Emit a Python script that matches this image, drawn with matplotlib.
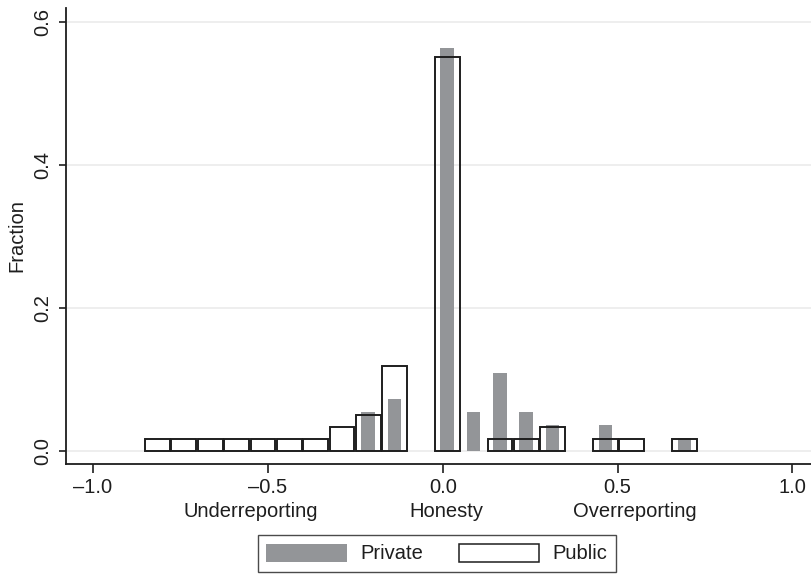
import matplotlib
matplotlib.use('Agg')
import matplotlib.pyplot as plt
from matplotlib.patches import Patch
from matplotlib.transforms import blended_transform_factory

plt.rcParams['font.family'] = ['Liberation Sans', 'DejaVu Sans']

# bin centres (deviation of report from truth) and fractions per treatment
public_x = [-0.815, -0.740, -0.665, -0.589, -0.514, -0.439, -0.363, -0.288,
            -0.213, -0.138, 0.013, 0.164, 0.239, 0.314, 0.465, 0.540, 0.691]
public_frac = [0.0167, 0.0167, 0.0167, 0.0167, 0.0167, 0.0167, 0.0167, 0.0333,
               0.0500, 0.1190, 0.5500, 0.0167, 0.0167, 0.0333, 0.0167, 0.0167, 0.0167]

private_x = [-0.213, -0.138, 0.013, 0.088, 0.164, 0.239, 0.314, 0.465, 0.691]
private_frac = [0.0545, 0.0727, 0.5636, 0.0545, 0.1091, 0.0545, 0.0364, 0.0364, 0.0182]

xticks = [-1.0, -0.5, 0.0, 0.5, 1.0]
yticks = [0.0, 0.2, 0.4, 0.6]
region_labels = ['Underreporting', 'Honesty', 'Overreporting']
region_x = [-0.55, 0.01, 0.55]

gray = '#939598'
ink = '#1e1e1e'
fs = 14.5

fig = plt.figure(figsize=(8.11, 5.74), dpi=100)
ax = fig.add_axes([0.081, 0.1916, 0.919, 0.7944])

ax.bar(private_x, private_frac, width=0.039, color=gray, linewidth=0, zorder=2)
ax.bar(public_x, public_frac, width=0.071, facecolor='none', edgecolor=ink,
       linewidth=1.4, zorder=3)

ax.set_xlim(-1.078, 1.053)
ax.set_ylim(-0.0186, 0.619)
ax.set_xticks(xticks)
ax.set_xticklabels([f'{v:.1f}'.replace('-', '\u2013') for v in xticks], fontsize=fs)
ax.set_yticks(yticks)
ax.set_yticklabels([f'{v:.1f}' for v in yticks], fontsize=fs, rotation=90, va='center')

ax.grid(axis='y', color='#ebebeb', linewidth=1.2, zorder=0)
ax.set_axisbelow(True)
for side in ['top', 'right']:
    ax.spines[side].set_visible(False)
for side in ['left', 'bottom']:
    ax.spines[side].set_linewidth(1.3)
    ax.spines[side].set_color(ink)
ax.tick_params(axis='x', length=6.5, width=1.2, color=ink, pad=3.5, labelcolor=ink)
ax.tick_params(axis='y', length=5, width=1.2, color=ink, pad=5, labelcolor=ink)

fig.text(17 / 811, 0.589, 'Fraction', rotation=90, ha='center', va='center',
         fontsize=fs, color=ink)

trans = blended_transform_factory(ax.transData, fig.transFigure)
for lx, lab in zip(region_x, region_labels):
    ax.text(lx, 1 - 517 / 574, lab, transform=trans, ha='center', va='baseline',
            fontsize=fs, color=ink)

handles = [Patch(facecolor=gray, edgecolor='none', label='Private'),
           Patch(facecolor='white', edgecolor=ink, linewidth=1.1, label='Public')]
leg = fig.legend(handles=handles, loc='center', ncol=2,
                 bbox_to_anchor=(437 / 811, 1 - 553.5 / 574), fontsize=fs,
                 handlelength=4.0, handleheight=1.0, handletextpad=0.67,
                 columnspacing=1.75, borderpad=0.4, fancybox=False, frameon=True)
leg.get_frame().set_edgecolor(ink)
leg.get_frame().set_linewidth(1.0)
for t in leg.get_texts():
    t.set_color(ink)

fig.savefig('out.png', dpi=100)
